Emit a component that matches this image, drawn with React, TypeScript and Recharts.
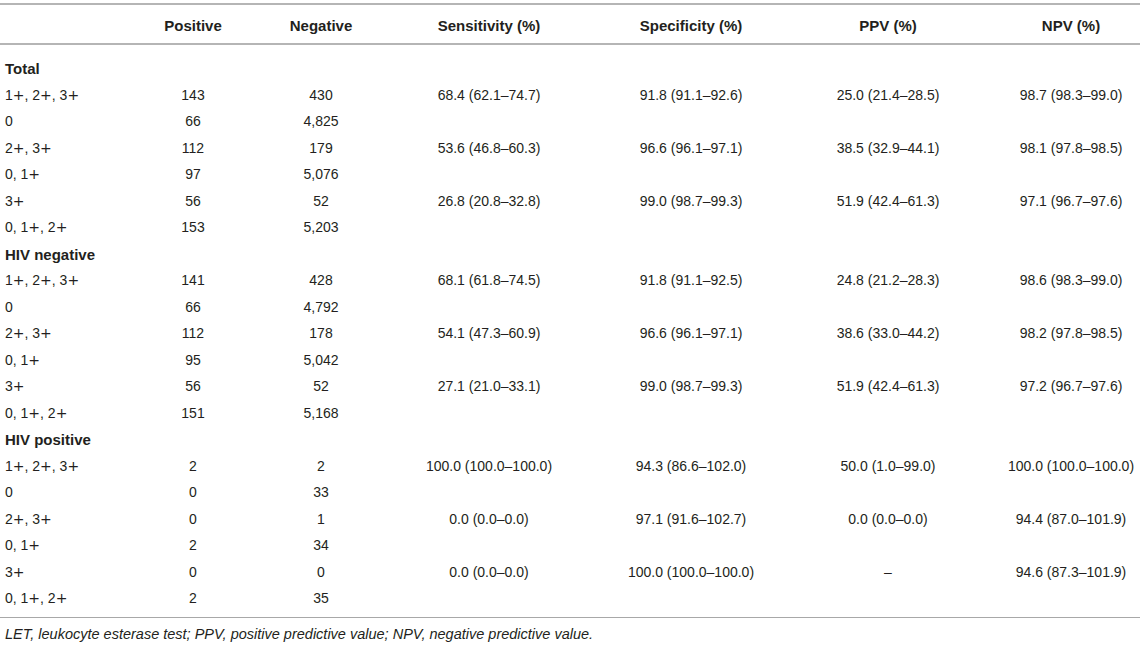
import React from 'react';
import { ScatterChart, Scatter, XAxis, YAxis } from 'recharts';

// ---------- data ----------
const rowLabels = [
  'Total', '1+, 2+, 3+', '0', '2+, 3+', '0, 1+', '3+', '0, 1+, 2+',
  'HIV negative', '1+, 2+, 3+', '0', '2+, 3+', '0, 1+', '3+', '0, 1+, 2+',
  'HIV positive', '1+, 2+, 3+', '0', '2+, 3+', '0, 1+', '3+', '0, 1+, 2+',
];
const groupHeaders = ['Total', 'HIV negative', 'HIV positive'];
const columnHeaders = ['Positive', 'Negative', 'Sensitivity (%)', 'Specificity (%)', 'PPV (%)', 'NPV (%)'];

const positive = [null, 143, 66, 112, 97, 56, 153, null, 141, 66, 112, 95, 56, 151, null, 2, 0, 0, 2, 0, 2];
const negative = [null, 430, 4825, 179, 5076, 52, 5203, null, 428, 4792, 178, 5042, 52, 5168, null, 2, 33, 1, 34, 0, 35];
const sensitivity = [
  '', '68.4 (62.1–74.7)', '', '53.6 (46.8–60.3)', '', '26.8 (20.8–32.8)', '',
  '', '68.1 (61.8–74.5)', '', '54.1 (47.3–60.9)', '', '27.1 (21.0–33.1)', '',
  '', '100.0 (100.0–100.0)', '', '0.0 (0.0–0.0)', '', '0.0 (0.0–0.0)', '',
];
const specificity = [
  '', '91.8 (91.1–92.6)', '', '96.6 (96.1–97.1)', '', '99.0 (98.7–99.3)', '',
  '', '91.8 (91.1–92.5)', '', '96.6 (96.1–97.1)', '', '99.0 (98.7–99.3)', '',
  '', '94.3 (86.6–102.0)', '', '97.1 (91.6–102.7)', '', '100.0 (100.0–100.0)', '',
];
const ppv = [
  '', '25.0 (21.4–28.5)', '', '38.5 (32.9–44.1)', '', '51.9 (42.4–61.3)', '',
  '', '24.8 (21.2–28.3)', '', '38.6 (33.0–44.2)', '', '51.9 (42.4–61.3)', '',
  '', '50.0 (1.0–99.0)', '', '0.0 (0.0–0.0)', '', '–', '',
];
const npv = [
  '', '98.7 (98.3–99.0)', '', '98.1 (97.8–98.5)', '', '97.1 (96.7–97.6)', '',
  '', '98.6 (98.3–99.0)', '', '98.2 (97.8–98.5)', '', '97.2 (96.7–97.6)', '',
  '', '100.0 (100.0–100.0)', '', '94.4 (87.0–101.9)', '', '94.6 (87.3–101.9)', '',
];
const footnote = 'LET, leukocyte esterase test; PPV, positive predictive value; NPV, negative predictive value.';

// ---------- layout / style ----------
const W = 1145;
const H = 645;
const COL_CENTERS = [193, 321, 489, 691, 888, 1071];
const FONT = '"Liberation Sans", Arial, Helvetica, sans-serif';
const TEXT = '#231f20';
const RULE = '#b5b5b5';

const fmt = (v: any) => (v === null || v === undefined ? '' : typeof v === 'number' ? v.toLocaleString('en-US') : String(v));

const columns = [positive, negative, sensitivity, specificity, ppv, npv];
const seriesData = columns.map((col, c) =>
  rowLabels
    .map((_, i) => ({ x: COL_CENTERS[c], y: i, text: fmt(col[i]) }))
    .filter((d) => d.text !== '')
);

const CellText = (props: any) => {
  const { cx, cy, payload } = props;
  if (cx == null || cy == null) return <g />;
  return (
    <text x={cx} y={cy} textAnchor="middle" dominantBaseline="central" fontSize={14} fontFamily={FONT} fill={TEXT}>
      {payload.text}
    </text>
  );
};

const RowTick = (props: any) => {
  const { y, payload } = props;
  const label = rowLabels[payload.value] ?? '';
  const bold = groupHeaders.includes(label);
  const parts = label.split(/(\+)/).filter((p: string) => p !== '');
  return (
    <text x={5} y={y} textAnchor="start" dominantBaseline="central" fontSize={bold ? 15 : 14} fontWeight={bold ? 700 : 400} fontFamily={FONT} fill={TEXT}>
      {parts.map((p: string, k: number) =>
        p === '+' ? (
          <tspan key={k} fontFamily='"DejaVu Sans", sans-serif'>+</tspan>
        ) : (
          <tspan key={k}>{p}</tspan>
        )
      )}
    </text>
  );
};

const HeaderTick = (props: any) => {
  const { x, index } = props;
  return (
    <text x={x} y={25} textAnchor="middle" dominantBaseline="central" fontSize={15} fontWeight={700} fontFamily={FONT} fill={TEXT}>
      {columnHeaders[index]}
    </text>
  );
};

export default function App() {
  const rowTicks = rowLabels.map((_, i) => i);
  return (
    <div style={{ position: 'absolute', left: 0, top: 0, width: W, height: H, background: '#fff', fontFamily: FONT }}>
      <div style={{ position: 'absolute', left: 0, top: 3, width: 1140, height: 2, background: RULE }} />
      <ScatterChart width={W} height={H} margin={{ top: 4, right: 5, bottom: 28, left: -1 }}>
        <XAxis
          type="number"
          dataKey="x"
          orientation="top"
          domain={[0, 1140]}
          ticks={COL_CENTERS}
          interval={0}
          height={40}
          axisLine={{ stroke: RULE, strokeWidth: 2 }}
          tickLine={false}
          tick={<HeaderTick />}
        />
        <YAxis
          type="number"
          dataKey="y"
          domain={[0, rowLabels.length - 1]}
          ticks={rowTicks}
          interval={0}
          reversed
          width={1}
          padding={{ top: 24, bottom: 19 }}
          axisLine={false}
          tickLine={false}
          tick={<RowTick />}
        />
        {seriesData.map((d, c) => (
          <Scatter key={c} name={columnHeaders[c]} data={d} isAnimationActive={false} shape={<CellText />} />
        ))}
      </ScatterChart>
      <div style={{ position: 'absolute', left: 0, top: 617, width: 1140, height: 1, background: '#a8a8a8' }} />
      <div
        style={{
          position: 'absolute',
          left: 5,
          top: 625,
          fontSize: 14.5,
          lineHeight: '18px',
          fontStyle: 'italic',
          color: TEXT,
          whiteSpace: 'nowrap',
        }}
      >
        {footnote}
      </div>
    </div>
  );
}
